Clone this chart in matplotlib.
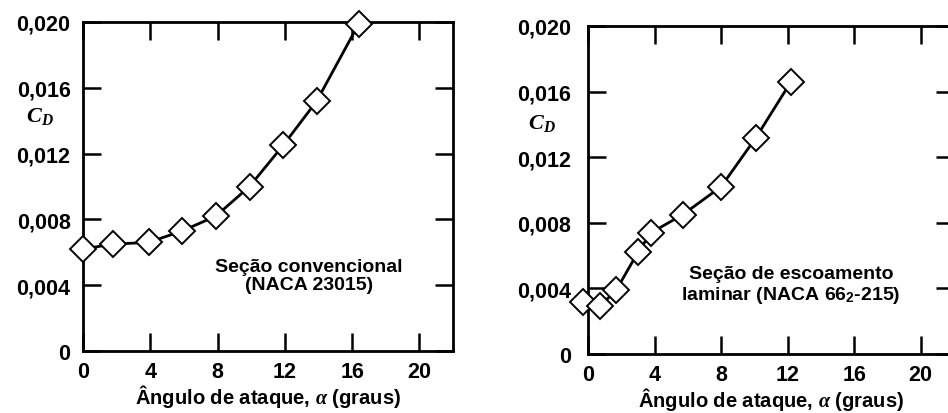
import matplotlib
matplotlib.use("Agg")
import matplotlib.pyplot as plt

# ---- data ----
alpha_conv = [0.0, 1.8, 3.9, 5.9, 7.9, 9.9, 11.9, 13.9, 16.4]
cd_conv = [0.0062, 0.0065, 0.0066, 0.0073, 0.0082, 0.0100, 0.0125, 0.0152, 0.0199]

alpha_lam = [-0.3, 0.7, 1.7, 3.0, 3.8, 5.7, 8.0, 10.1, 12.2]
cd_lam = [0.0032, 0.0029, 0.0039, 0.0062, 0.0074, 0.0085, 0.0102, 0.0132, 0.0166]

xticks = [0, 4, 8, 12, 16, 20]
xticklabels = ["0", "4", "8", "12", "16", "20"]
yticks = [0, 0.004, 0.008, 0.012, 0.016, 0.020]
yticklabels = ["0", "0,004", "0,008", "0,012", "0,016", "0,020"]

xlabel = "Ângulo de ataque, $\\alpha$ (graus)"
ylabel = "$\\mathbfit{C}_{\\mathbfit{D}}$"
note_conv = "Seção convencional\n(NACA 23015)"
note_lam = "Seção de escoamento\nlaminar (NACA 66$_{\\mathbf{2}}$-215)"

plt.rcParams['font.family'] = ['Liberation Sans', 'DejaVu Sans']
plt.rcParams['font.weight'] = 'bold'
plt.rcParams['mathtext.fontset'] = 'custom'
plt.rcParams['mathtext.rm'] = 'Liberation Sans:bold'
plt.rcParams['mathtext.bf'] = 'Liberation Sans:bold'
plt.rcParams['mathtext.it'] = 'Liberation Serif:italic:bold'
plt.rcParams['mathtext.bfit'] = 'Liberation Serif:italic:bold'

W, H = 948, 414
fig = plt.figure(figsize=(W / 100, H / 100), dpi=100)
fig.patch.set_facecolor('white')

ax1 = fig.add_axes([83 / W, 1 - 352 / H, (453 - 83) / W, (352 - 23) / H])
ax2 = fig.add_axes([588 / W, 1 - 355 / H, (954 - 588) / W, (355 - 27) / H])

def style(ax, ylab_pad):
    ax.set_xlim(0, 22)
    ax.set_ylim(0, 0.020)
    ax.set_xticks(xticks)
    ax.set_xticklabels(xticklabels)
    ax.set_yticks(yticks)
    ax.set_yticklabels(yticklabels)
    for s in ax.spines.values():
        s.set_linewidth(2.0)
    ax.tick_params(direction='in', length=13, width=1.8, top=True, right=True,
                   labelsize=15.5, colors='black')
    ax.tick_params(axis='x', pad=7)
    ax.tick_params(axis='y', pad=ylab_pad)
    ax.set_xlabel(xlabel, fontsize=14.5, fontweight='bold', labelpad=0)
    ax.set_facecolor('white')

style(ax1, 9)
style(ax2, 12)

for ax, x, y in [(ax1, alpha_conv, cd_conv), (ax2, alpha_lam, cd_lam)]:
    ax.plot(x, y, color='black', lw=2.0, marker='D', ms=13.5,
            mfc='white', mec='black', mew=1.4, clip_on=False, zorder=5)

# C_D labels
fig.text(40 / W, 1 - 117 / H, ylabel, fontsize=16, ha='center', va='center')
fig.text((474 + 205 / 3) / W, 1 - 123 / H, ylabel, fontsize=16, ha='center', va='center')

# annotations
ax1.text(0.61, 0.23, note_conv, transform=ax1.transAxes, fontsize=14,
         ha='center', va='center', linespacing=1.1)
ax2.text(0.555, 0.21, note_lam, transform=ax2.transAxes, fontsize=14,
         ha='center', va='center', linespacing=1.1)

fig.savefig('out.png', dpi=100, facecolor='white')
